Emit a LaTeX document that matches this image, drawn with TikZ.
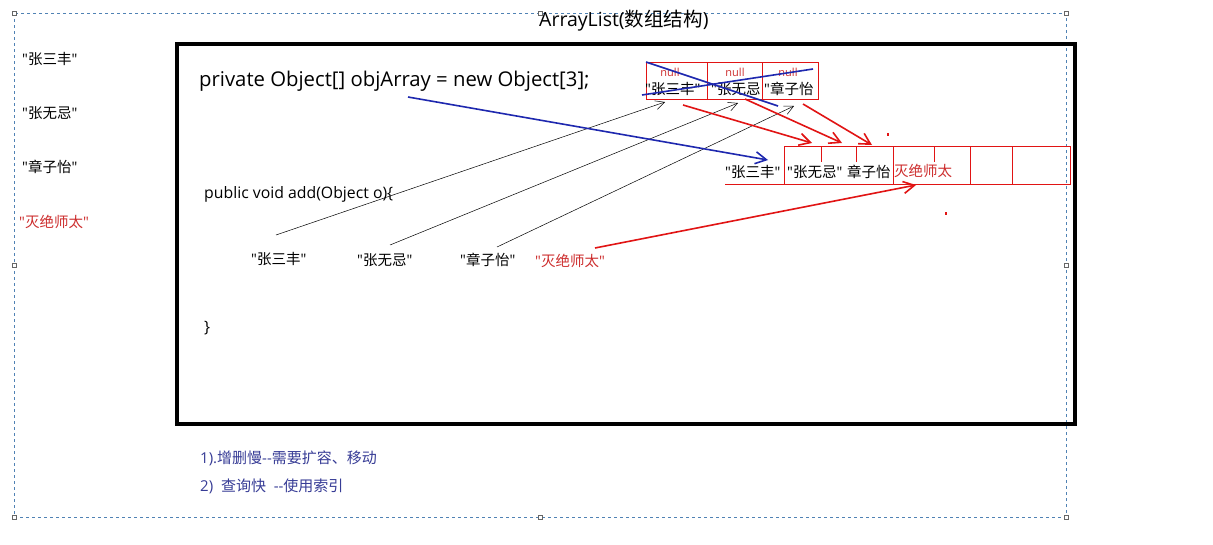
\documentclass[tikz,border=0pt]{standalone}
\usepackage{fontspec}
\setmainfont{Open Sans}[Ligatures=TeXOff]
\newfontfamily\cjk{Noto Sans CJK SC}[Ligatures=TeXOff]
\newcommand{\zh}[1]{{\cjk #1}}
\usetikzlibrary{arrows.meta}
\definecolor{selblue}{RGB}{80,130,180}
\definecolor{arrred}{RGB}{225,20,20}
\definecolor{txtred}{RGB}{205,45,45}
\definecolor{noteblue}{RGB}{55,60,150}
\definecolor{crossblue}{RGB}{30,40,175}
\tikzset{
  txt/.style={inner sep=0pt, anchor=west, font=\fontsize{14.5}{16}\selectfont},
  redtxt/.style={txt, text=txtred},
  notetxt/.style={txt, text=noteblue, font=\fontsize{15}{17}\selectfont},
  nulltxt/.style={inner sep=0pt, text=txtred, font=\fontsize{11}{12}\selectfont},
  handle/.style={draw=gray!80!black, fill=white, line width=0.6pt, minimum size=4pt, inner sep=0pt},
  cell/.style={draw=arrred, line width=0.6pt, inner sep=0pt},
  blkarrow/.style={draw=black, line width=0.5pt, -{Straight Barb[length=9pt,width=9pt]}},
  redarrow/.style={draw=arrred, line width=1.6pt, -{Straight Barb[length=11pt,width=12pt,line width=1.6pt]}},
  bluearrow/.style={draw=crossblue, line width=1.6pt, -{Straight Barb[length=11pt,width=12pt,line width=1.6pt]}},
  crossline/.style={draw=crossblue, line width=1.6pt},
}
\begin{document}
\begin{tikzpicture}[x=1pt,y=-1pt]
\useasboundingbox (0,0) rectangle (1213,544);
\fill[white] (0,0) rectangle (1213,544);

% selection frame
\draw[selblue, dashed, dash pattern=on 3pt off 3pt, line width=0.8pt] (14,13) rectangle (1066,517);
\foreach \p [count=\i] in {(14,13),(540,13),(1066,13),(14,265),(1066,265),(14,517),(540,517),(1066,517)}
  \node[handle] (h\i) at \p {};

% main box
\draw[black, line width=3.5pt] (177,44) rectangle (1075,424);

% title
\node[inner sep=0pt, anchor=west, font=\fontsize{19.5}{22}\selectfont] (title) at (539,21) {ArrayList(\zh{数组结构})};

% left labels
\node[txt] (l1) at (22,59) {"\zh{张三丰}"};
\node[txt] (l2) at (22,113) {"\zh{张无忌}"};
\node[txt] (l3) at (22,167) {"\zh{章子怡}"};
\node[redtxt] (l4) at (19,222) {"\zh{灭绝师太}"};

% code
\node[txt, font=\fontsize{20.3}{24}\selectfont] (decl) at (199,81) {private Object[] objArray = new Object[3];};
\node[txt, font=\fontsize{15.8}{18}\selectfont] (add) at (204,194) {public void add(Object o)\{};
\node[txt, font=\fontsize{15.8}{18}\selectfont] (close) at (204,328) {\}};

% middle labels
\node[txt] (m1) at (251,259) {"\zh{张三丰}"};
\node[txt] (m2) at (357,260) {"\zh{张无忌}"};
\node[txt] (m3) at (460,260) {"\zh{章子怡}"};
\node[redtxt] (m4) at (535,261) {"\zh{灭绝师太}"};

% small array
\node[cell, minimum width=61pt, minimum height=37pt] (s1) at (676.5,80.5) {};
\node[cell, minimum width=55pt, minimum height=37pt] (s2) at (734.5,80.5) {};
\node[cell, minimum width=56pt, minimum height=37pt] (s3) at (790,80.5) {};
\node[nulltxt] (n1) at (670,72) {null};
\node[nulltxt] (n2) at (735,72) {null};
\node[nulltxt] (n3) at (788,72) {null};
\node[txt] (t1) at (645,89) {"\zh{张三丰}"};
\node[txt] (t2) at (711,89) {"\zh{张无忌}};
\node[txt] (t3) at (764,89) {"\zh{章子怡}};

% crossing out lines
\coordinate (c1a) at (646,62);
\coordinate (c1b) at (778,106);
\coordinate (c2a) at (642,95);
\coordinate (c2b) at (813,69);
\draw[crossline] (c1a) -- (c1b);
\draw[crossline] (c2a) -- (c2b);

% big array
\node[cell, minimum width=286pt, minimum height=38pt, anchor=north west] (big) at (784,146) {};
\draw[arrred, line width=0.6pt] (821,146) -- (821,162);
\draw[arrred, line width=0.6pt] (856,146) -- (856,162);
\draw[arrred, line width=0.6pt] (893,146) -- (893,184);
\draw[arrred, line width=0.6pt] (934,146) -- (934,162);
\draw[arrred, line width=0.6pt] (970,146) -- (970,184);
\draw[arrred, line width=0.6pt] (1012,146) -- (1012,184);
\draw[arrred, line width=0.6pt] (725,184) -- (784,184);
\node[txt] (b1) at (725,172) {"\zh{张三丰}"};
\node[txt] (b2) at (787,172) {"\zh{张无忌}"};
\node[txt] (b3) at (847,172) {\zh{章子怡}};
\node[redtxt] (b4) at (894,171) {\zh{灭绝师太}};

% arrow coordinates
\coordinate (k1) at (276,235);
\coordinate (k2) at (390,245);
\coordinate (k3) at (497,247);
\coordinate (e1) at (665,102);
\coordinate (e2) at (738,103);
\coordinate (e3) at (794,106);
\draw[blkarrow] (k1) -- (e1);
\draw[blkarrow] (k2) -- (e2);
\draw[blkarrow] (k3) -- (e3);

\coordinate (r1s) at (683,105);
\coordinate (r1e) at (812,143);
\coordinate (r2s) at (745,99);
\coordinate (r2e) at (842,143);
\coordinate (r3s) at (803,104);
\coordinate (r3e) at (872,145);
\coordinate (r4s) at (595,248);
\coordinate (r4e) at (916,185);
\draw[redarrow] (r1s) -- (r1e);
\draw[redarrow] (r2s) -- (r2e);
\draw[redarrow] (r3s) -- (r3e);
\draw[redarrow] (r4s) -- (r4e);

\coordinate (bls) at (408,97);
\coordinate (ble) at (768,160);
\draw[bluearrow] (bls) -- (ble);

% stray marks
\fill[arrred] (887,133) rectangle (889,136);
\fill[arrred] (945,212) rectangle (947,215);

% notes
\node[notetxt] (note1) at (200,458) {1).\zh{增删慢}-{}-\zh{需要扩容、移动}};
\node[notetxt] (note2) at (200,486) {2)\ \ \zh{查询快}\ \ -{}-\zh{使用索引}};
\end{tikzpicture}
\end{document}
